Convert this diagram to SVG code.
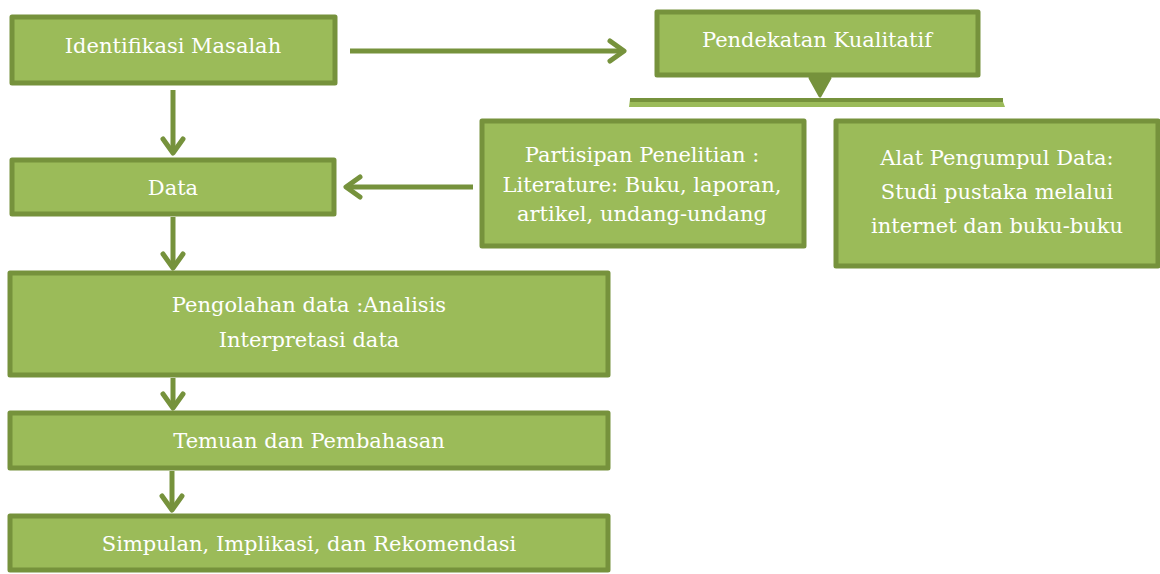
<svg xmlns="http://www.w3.org/2000/svg" width="1160" height="574" viewBox="0 0 1160 574">
<style>
.box{fill:#9BBB59;stroke:#76923C;stroke-width:5;stroke-linejoin:round}
.t{font-family:"DejaVu Serif","Liberation Serif",serif;font-size:21px;fill:#FFFFFF;text-anchor:middle}
.c{fill:none;stroke:#76923C;stroke-width:5}
.h{fill:none;stroke:#76923C;stroke-width:5;stroke-linecap:round;stroke-linejoin:round}
</style>
<rect width="1160" height="574" fill="#FFFFFF"/>
<g id="connectors">
<line class="c" x1="350" y1="51" x2="624" y2="51"/>
<polyline class="h" points="610,41 624,51 610,61"/>
<line class="c" x1="473" y1="187" x2="346" y2="187"/>
<polyline class="h" points="360,177 346,187 360,197"/>
<line class="c" x1="173" y1="90" x2="173" y2="153"/>
<polyline class="h" points="163,139 173,153 183,139"/>
<line class="c" x1="173" y1="217" x2="173" y2="268"/>
<polyline class="h" points="163,254 173,268 183,254"/>
<line class="c" x1="173" y1="378" x2="173" y2="408"/>
<polyline class="h" points="163,394 173,408 183,394"/>
<line class="c" x1="172" y1="471" x2="172" y2="510"/>
<polyline class="h" points="162,496 172,510 182,496"/>
<polygon points="810,78 830,78 820,96" fill="#76923C" stroke="#76923C" stroke-width="3" stroke-linejoin="round"/>
<path d="M629,107 L630,99 L1002,99 L1005,107 Z" fill="#9BBB59"/>
<line x1="630" y1="100" x2="1003" y2="100" stroke="#76923C" stroke-width="4"/>
</g>
<g id="identifikasi">
<rect class="box" x="12" y="17" width="323" height="66"/>
<text class="t" x="173" y="53">Identifikasi Masalah</text>
</g>
<g id="pendekatan">
<rect class="box" x="657" y="12" width="321" height="63"/>
<text class="t" x="817" y="47">Pendekatan Kualitatif</text>
</g>
<g id="partisipan">
<rect class="box" x="482" y="121" width="322" height="125"/>
<text class="t" x="642" y="162">Partisipan Penelitian :</text>
<text class="t" x="642" y="192">Literature: Buku, laporan,</text>
<text class="t" x="642" y="221">artikel, undang-undang</text>
</g>
<g id="alat">
<rect class="box" x="836" y="121" width="322" height="145"/>
<text class="t" x="997" y="165">Alat Pengumpul Data:</text>
<text class="t" x="997" y="199">Studi pustaka melalui</text>
<text class="t" x="997" y="233">internet dan buku-buku</text>
</g>
<g id="data">
<rect class="box" x="12" y="160" width="322" height="54"/>
<text class="t" x="173" y="195">Data</text>
</g>
<g id="pengolahan">
<rect class="box" x="10" y="273" width="598" height="102"/>
<text class="t" x="309" y="312">Pengolahan data :Analisis</text>
<text class="t" x="309" y="347">Interpretasi data</text>
</g>
<g id="temuan">
<rect class="box" x="10" y="413" width="598" height="55"/>
<text class="t" x="309" y="448">Temuan dan Pembahasan</text>
</g>
<g id="simpulan">
<rect class="box" x="10" y="516" width="598" height="54"/>
<text class="t" x="309" y="551">Simpulan, Implikasi, dan Rekomendasi</text>
</g>
</svg>
